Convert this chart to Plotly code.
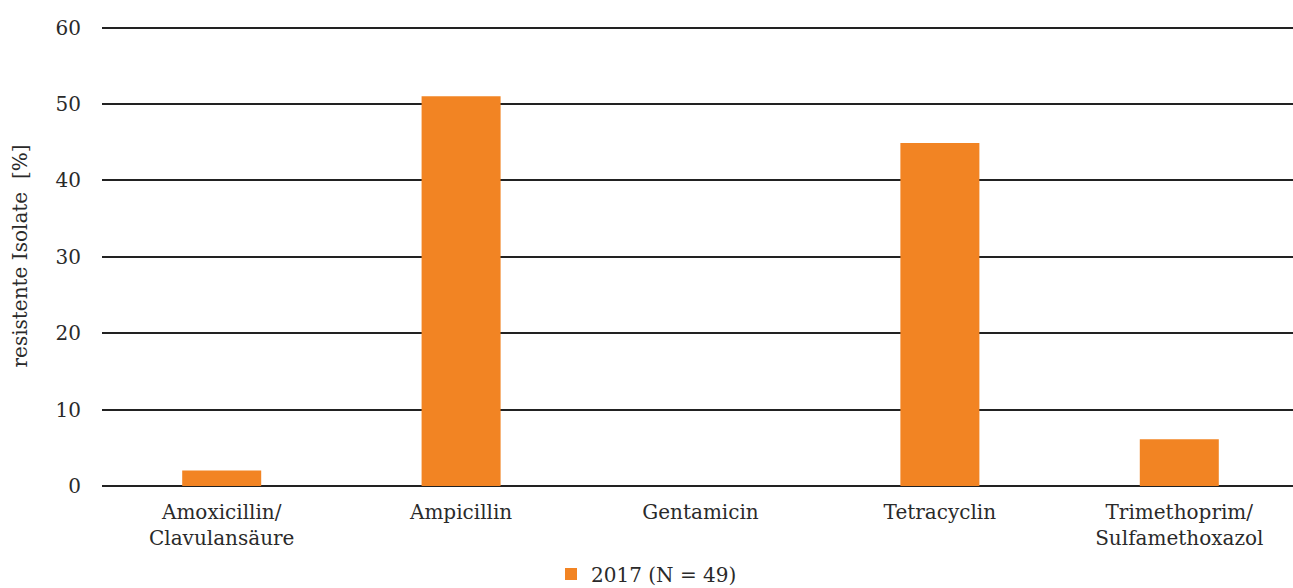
import plotly.graph_objects as go

categories = ["Amoxicillin/<br>Clavulansäure", "Ampicillin", "Gentamicin", "Tetracyclin", "Trimethoprim/<br>Sulfamethoxazol"]
values_2017 = [2.04, 51.0, 0.0, 44.9, 6.12]
series_name = "2017 (N = 49)"
y_ticks = [0, 10, 20, 30, 40, 50, 60]

FONT = "DejaVu Serif"
FS = 20

fig = go.Figure()
fig.add_trace(go.Bar(
    x=categories, y=values_2017, name=series_name,
    marker=dict(color="#F28423", line=dict(width=0)),
    showlegend=True,
))

fig.update_layout(
    width=1293, height=588,
    margin=dict(l=102, r=0, t=26, b=102),
    plot_bgcolor="white", paper_bgcolor="white",
    font=dict(family=FONT, size=FS, color="#2a2a2a"),
    bargap=0.67,
    showlegend=True,
    legend=dict(orientation="h", x=0.5, xanchor="center", xref="container",
                y=0.024, yanchor="middle", yref="container",
                font=dict(family=FONT, size=FS), itemwidth=30),
    xaxis=dict(range=[-0.5, 4.475], showgrid=False, showline=False, ticks="",
               ticklabelstandoff=12,
               tickfont=dict(family=FONT, size=FS), zeroline=False, automargin=False),
    yaxis=dict(range=[0, 60.2], tickvals=y_ticks, showgrid=True, gridcolor="#222222", gridwidth=1.6,
               zeroline=True, zerolinecolor="#222222", zerolinewidth=1.6,
               ticks="", ticklabelstandoff=20, automargin=False,
               tickfont=dict(family=FONT, size=FS),
               title=dict(text="resistente Isolate  [%]", font=dict(family=FONT, size=FS), standoff=22)),
)

fig.write_html("out.html", config={"displayModeBar": False},
               post_script="document.body.style.margin='0';document.body.style.overflow='hidden';")
